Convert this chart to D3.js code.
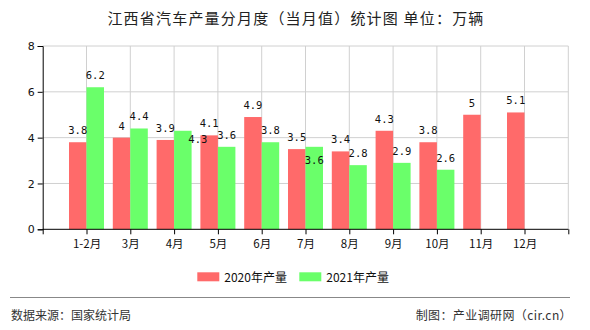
<!DOCTYPE html>
<html><head><meta charset="utf-8">
<script src="https://cdn.jsdelivr.net/npm/d3@7/dist/d3.min.js"></script>
<style>
body{margin:0;background:#fff;}
</style></head>
<body><svg id="c" width="590" height="330"></svg>
<script>
const categories = ["1-2月","3月","4月","5月","6月","7月","8月","9月","10月","11月","12月"];
const values2020 = [3.8,4,3.9,4.1,4.9,3.5,3.4,4.3,3.8,5,5.1];
const values2021 = [6.2,4.4,4.3,3.6,3.8,3.6,2.8,2.9,2.6,null,null];
const yTicks = [0,2,4,6,8];
const seriesNames = ["2020年产量","2021年产量"];
const colors = ["#ff6a6a","#6aff6a"];
// per-label nudges used by the original to avoid overlaps [dx, dy]
const labelNudge2021 = {"4月":[15,20],"7月":[0,25]};

const CJK = "'Noto Sans CJK SC','DejaVu Sans',sans-serif";
const MONO = "'DejaVu Sans Mono','Liberation Mono',monospace";
const svg = d3.select("#c").style("font-family",CJK);
const L=42.7, R=568.3, T=46, B=229.3;
const x = d3.scaleLinear().domain([0, categories.length+1]).range([L,R]);
const y = d3.scaleLinear().domain([0,8]).range([B,T]);
const bw = 17.5;

svg.append("text").attr("x",296).attr("y",24).attr("text-anchor","middle")
  .style("font-size","15px").style("letter-spacing","1.2px").attr("fill","#222")
  .text("江西省汽车产量分月度（当月值）统计图 单位：万辆");

// gridlines
const g = svg.append("g");
g.selectAll(".hg").data(yTicks.slice(1)).join("line")
  .attr("x1",L).attr("x2",R).attr("y1",d=>y(d)).attr("y2",d=>y(d))
  .attr("stroke","#d0d0d0").attr("stroke-width",1);
const vIdx = d3.range(1, categories.length+2);
g.selectAll(".vg").data(vIdx).join("line")
  .attr("x1",d=>x(d)).attr("x2",d=>x(d)).attr("y1",T).attr("y2",B)
  .attr("stroke","#d0d0d0").attr("stroke-width",1);

// bars
const d2020 = categories.map((c,i)=>({c,i,v:values2020[i]}));
const d2021 = categories.map((c,i)=>({c,i,v:values2021[i]})).filter(d=>d.v!=null);
svg.append("g").selectAll("rect").data(d2020).join("rect")
  .attr("x",d=>x(d.i+1)-bw).attr("width",bw).attr("y",d=>y(d.v)).attr("height",d=>B-y(d.v))
  .attr("fill",colors[0]);
svg.append("g").selectAll("rect").data(d2021).join("rect")
  .attr("x",d=>x(d.i+1)).attr("width",bw).attr("y",d=>y(d.v)).attr("height",d=>B-y(d.v))
  .attr("fill",colors[1]);

// labels
svg.append("g").selectAll("text").data(d2020).join("text")
  .attr("x",d=>x(d.i+1)-bw/2).attr("y",d=>y(d.v)-8).attr("text-anchor","middle")
  .style("font-size","10.5px").style("font-family",MONO).attr("fill","#111").text(d=>d.v);
svg.append("g").selectAll("text").data(d2021).join("text")
  .attr("x",d=>x(d.i+1)+bw/2+((labelNudge2021[d.c]||[0,0])[0]))
  .attr("y",d=>y(d.v)-8+((labelNudge2021[d.c]||[0,0])[1]))
  .attr("text-anchor","middle")
  .style("font-size","10.5px").style("font-family",MONO).attr("fill","#111").text(d=>d.v);

// axes
const yAxis = d3.axisLeft(y).tickValues(yTicks).tickSize(5).tickFormat(d3.format("d"));
const ya = svg.append("g").attr("transform",`translate(${L},0)`).call(yAxis);
ya.attr("font-family",null).attr("font-size",null);
ya.select(".domain").attr("stroke","#000");
ya.selectAll("text").style("font-size","11px").attr("fill","#111").style("font-family","'DejaVu Sans',sans-serif");
const xAxis = d3.axisBottom(x).tickValues(d3.range(0,categories.length+2)).tickSize(5)
  .tickFormat(d=> (d>=1 && d<=categories.length) ? categories[d-1] : "");
const xa = svg.append("g").attr("transform",`translate(0,${B})`).call(xAxis);
xa.attr("font-family",null).attr("font-size",null);
xa.select(".domain").attr("stroke","#000").attr("d",`M${L},0H${R}`);
xa.selectAll("text").style("font-size","11.5px").attr("fill","#111").attr("dy","0.9em");

// legend
const lg = svg.append("g");
const lx = [197.3, 299.3];
seriesNames.forEach((n,i)=>{
  lg.append("rect").attr("x",lx[i]).attr("y",272.3).attr("width",22).attr("height",9).attr("fill",colors[i]);
  lg.append("text").attr("x",lx[i]+27).attr("y",282).style("font-size","12px").attr("fill","#111").text(n);
});

// footer
svg.append("line").attr("x1",10).attr("x2",570).attr("y1",297.5).attr("y2",297.5).attr("stroke","#888").attr("stroke-width",1);
svg.append("text").attr("x",11).attr("y",320).style("font-size","12px").attr("fill","#333").text("数据来源：国家统计局");
svg.append("text").attr("x",572).attr("y",320).attr("text-anchor","end").style("font-size","12px").style("letter-spacing","0.4px").attr("fill","#333").text("制图：产业调研网（cir.cn）");
</script></body></html>
